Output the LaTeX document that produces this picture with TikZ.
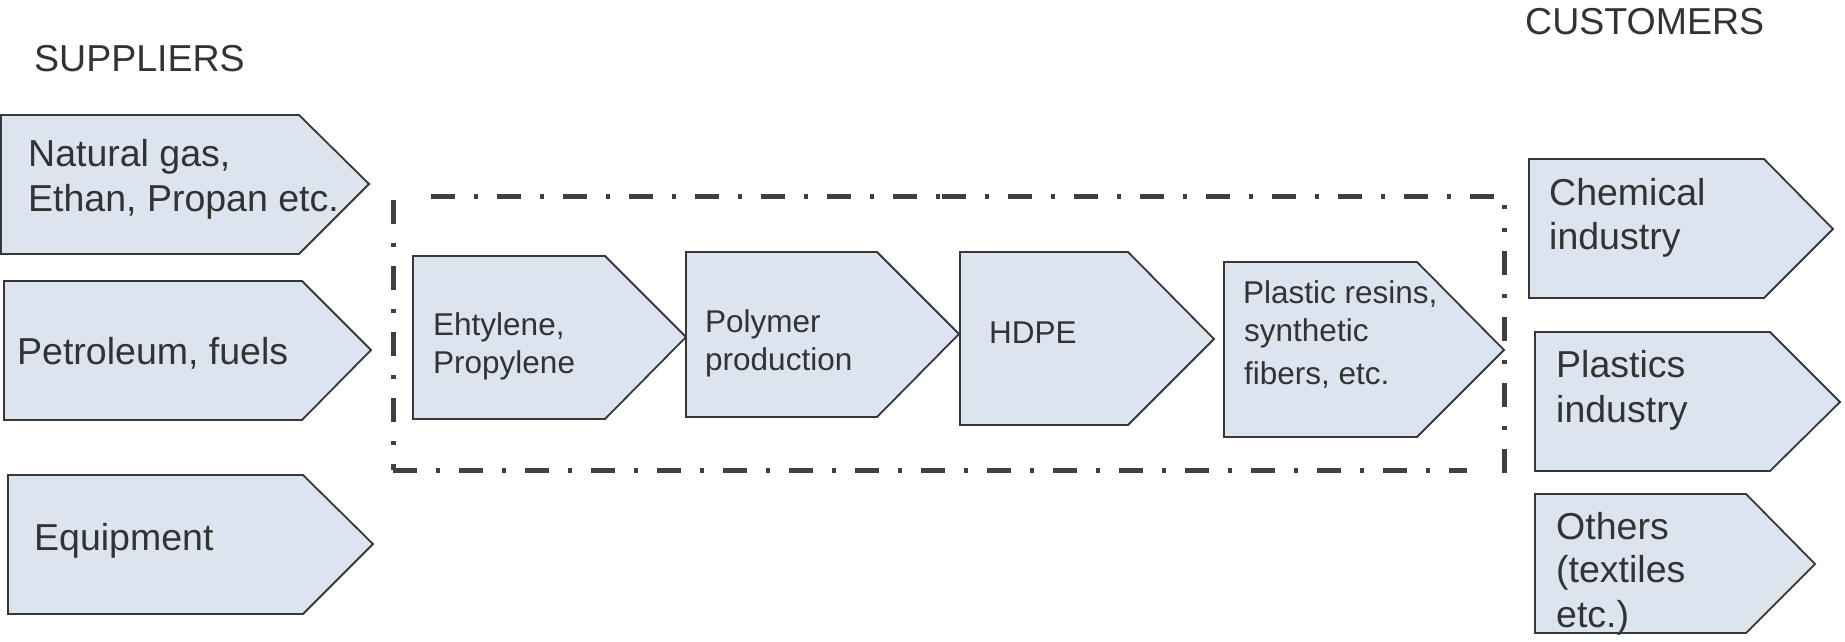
\documentclass[tikz,border=0pt]{standalone}
\usepackage{fontspec}
\setmainfont{Liberation Sans}
\definecolor{boxfill}{RGB}{220,228,239}
\definecolor{boxline}{RGB}{55,55,55}
\definecolor{ink}{RGB}{51,51,51}
\definecolor{framegray}{RGB}{64,64,64}

% chevron-shaped stage: name, left, top, bottom, shoulder x, tip x, tip y
\newcommand\stagebox[7]{%
  \draw[stage] (#2,#3) -- (#5,#3) -- (#6,#7) -- (#5,#4) -- (#2,#4) -- cycle;
  \coordinate (#1) at (#6,#7);
}

\begin{document}
\begin{tikzpicture}[x=1pt,y=-1pt,
  stage/.style={draw=boxline, line width=1.8pt, fill=boxfill, line join=miter},
  big/.style={font=\fontsize{37.5}{45}\selectfont, text=ink, inner sep=0pt, anchor=base west},
  small/.style={font=\fontsize{31.5}{38}\selectfont, text=ink, inner sep=0pt, anchor=base west},
  frame/.style={draw=framegray, line width=5pt, dash pattern=on 24pt off 19pt on 4pt off 19pt}]
\useasboundingbox (0,0) rectangle (1845,642);

% headings
\node[big] (suppliers) at (34,72) {SUPPLIERS};
\node[big] (customers) at (1525,35) {CUSTOMERS};

% suppliers
\stagebox{gas}{1}{115}{254}{299}{369}{184}
\stagebox{oil}{4}{281}{420}{302}{371}{350}
\stagebox{equip}{8}{475}{614}{303}{373}{544}
\node[big] (gas1) at (28,166) {Natural gas,};
\node[big] (gas2) at (28,211) {Ethan, Propan etc.};
\node[big] (oil1) at (17,364) {Petroleum, fuels};
\node[big] (equip1) at (34,550) {Equipment};

% value chain
\stagebox{monomer}{413}{256}{419}{605}{686}{337}
\stagebox{polymer}{686}{252}{417}{877}{959}{334}
\stagebox{hdpe}{960}{252}{425}{1128}{1214}{339}
\stagebox{resin}{1224}{262}{437}{1417}{1504}{350}
\node[small] (mono1) at (433,335) {Ehtylene,};
\node[small] (mono2) at (433,373) {Propylene};
\node[small] (poly1) at (705,332) {Polymer};
\node[small] (poly2) at (705,370) {production};
\node[small] (hdpe1) at (989,343) {HDPE};
\node[small] (resin1) at (1243,303) {Plastic resins,};
\node[small] (resin2) at (1244,341) {synthetic};
\node[small] (resin3) at (1244,384) {fibers, etc.};

% customers
\stagebox{chem}{1529}{159}{298}{1764}{1833}{229}
\stagebox{plast}{1535}{332}{471}{1770}{1840}{402}
\stagebox{other}{1535}{494}{633}{1746}{1815}{564}
\node[big] (chem1) at (1549,205) {Chemical};
\node[big] (chem2) at (1549,249) {industry};
\node[big] (plast1) at (1556,377) {Plastics};
\node[big] (plast2) at (1556,422) {industry};
\node[big] (other1) at (1556,539) {Others};
\node[big] (other2) at (1556,582) {(textiles};
\node[big] (other3) at (1556,627) {etc.)};

% dash-dotted frame around the value chain
\coordinate (fTL) at (393,200);
\coordinate (fBL) at (393,470);
\coordinate (fBR) at (1467,470);
\coordinate (fRB) at (1504,473);
\coordinate (fRT) at (1504,205);
\coordinate (fTa) at (431,196);
\coordinate (fTb) at (941,196);
\coordinate (fTc) at (942,196);
\coordinate (fTd) at (1495,196);
\draw[frame] (fTL) -- (fBL);
\draw[frame] (fBL) -- (fBR);
\draw[frame] (fRB) -- (fRT);
\draw[frame] (fTa) -- (fTb);
\draw[frame] (fTc) -- (fTd);
\end{tikzpicture}
\end{document}
